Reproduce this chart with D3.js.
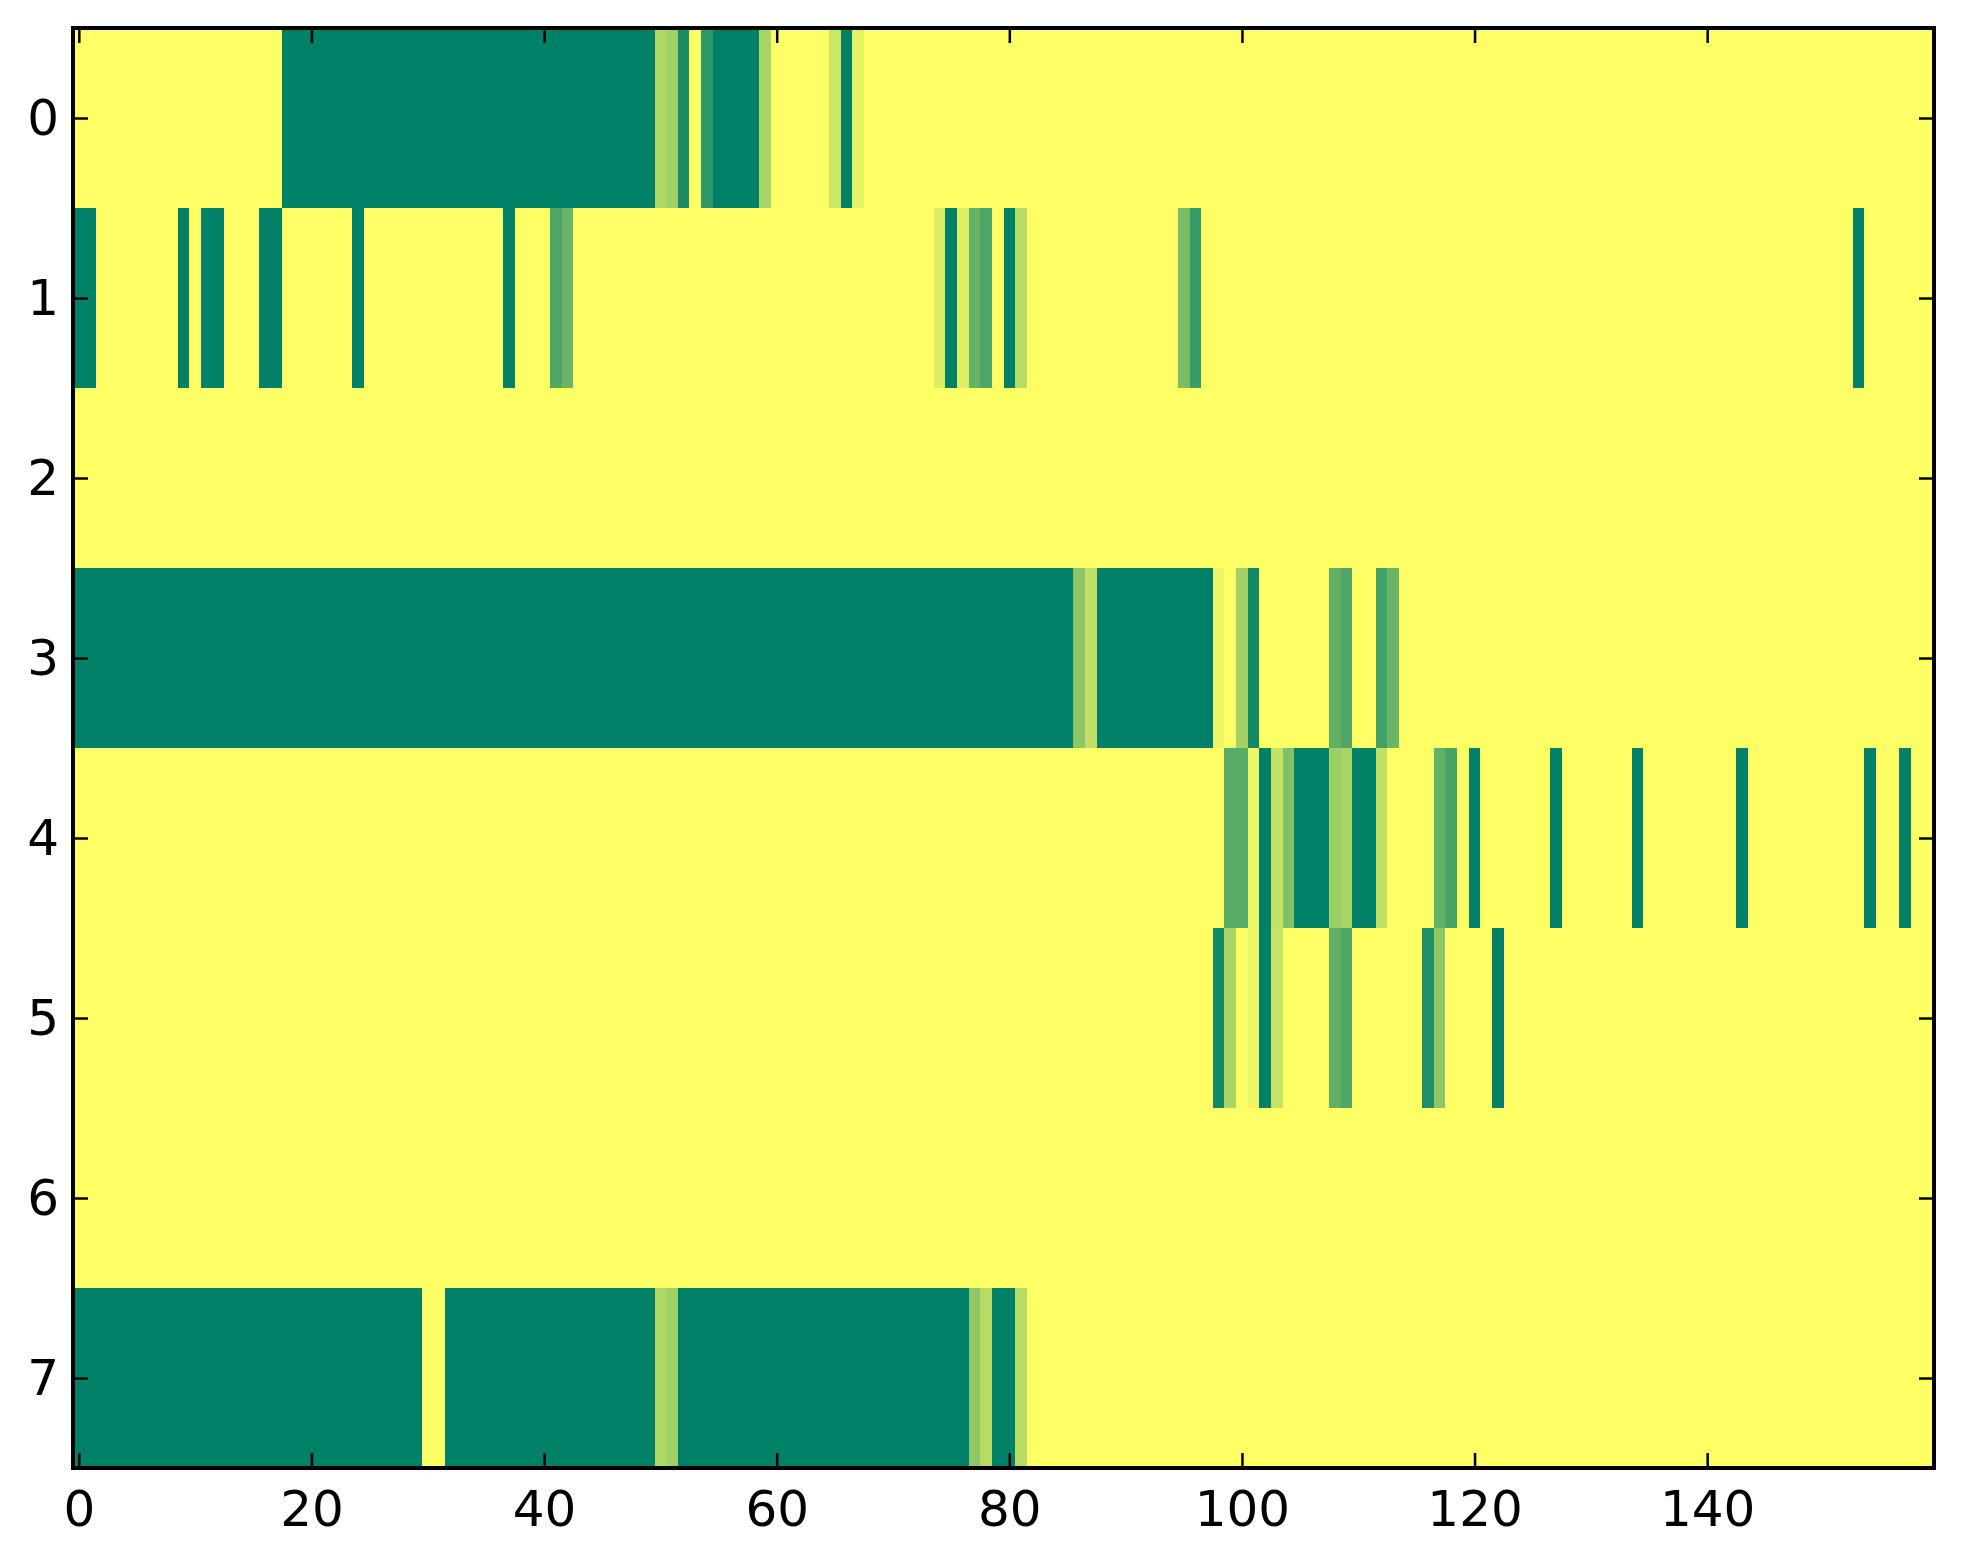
<!DOCTYPE html>
<html>
<head>
<meta charset="utf-8">
<script src="https://cdn.jsdelivr.net/npm/d3@7"></script>
<style>
  body { margin: 0; background: #fff; }
  svg { display: block; }
</style>
</head>
<body>
<div id="chart"></div>
<script>
// one array per image row, 160 columns each, value 0..1 (summer colormap)
const row0 = [
  1,1,1,1,1,1,1,1,1,1,1,1,1,1,1,1,1,1,0,0,
  0,0,0,0,0,0,0,0,0,0,0,0,0,0,0,0,0,0,0,0,
  0,0,0,0,0,0,0,0,0,0,.69,.63,.09,1,.18,0,0,0,0,.66,
  1,1,1,1,1,.8,0,.9,1,1,1,1,1,1,1,1,1,1,1,1,
  1,1,1,1,1,1,1,1,1,1,1,1,1,1,1,1,1,1,1,1,
  1,1,1,1,1,1,1,1,1,1,1,1,1,1,1,1,1,1,1,1,
  1,1,1,1,1,1,1,1,1,1,1,1,1,1,1,1,1,1,1,1,
  1,1,1,1,1,1,1,1,1,1,1,1,1,1,1,1,1,1,1,1
];
const row1 = [
  0,0,1,1,1,1,1,1,1,0,1,0,0,1,1,1,0,0,1,1,
  1,1,1,1,0,1,1,1,1,1,1,1,1,1,1,1,1,0,1,1,
  1,.31,.41,1,1,1,1,1,1,1,1,1,1,1,1,1,1,1,1,1,
  1,1,1,1,1,1,1,1,1,1,1,1,1,1,.86,0,.87,.4,.3,1,
  0,.72,1,1,1,1,1,1,1,1,1,1,1,1,1,.48,.22,1,1,1,
  1,1,1,1,1,1,1,1,1,1,1,1,1,1,1,1,1,1,1,1,
  1,1,1,1,1,1,1,1,1,1,1,1,1,1,1,1,1,1,1,1,
  1,1,1,1,1,1,1,1,1,1,1,1,1,0,1,1,1,1,1,1
];
const row2 = [
  1,1,1,1,1,1,1,1,1,1,1,1,1,1,1,1,1,1,1,1,
  1,1,1,1,1,1,1,1,1,1,1,1,1,1,1,1,1,1,1,1,
  1,1,1,1,1,1,1,1,1,1,1,1,1,1,1,1,1,1,1,1,
  1,1,1,1,1,1,1,1,1,1,1,1,1,1,1,1,1,1,1,1,
  1,1,1,1,1,1,1,1,1,1,1,1,1,1,1,1,1,1,1,1,
  1,1,1,1,1,1,1,1,1,1,1,1,1,1,1,1,1,1,1,1,
  1,1,1,1,1,1,1,1,1,1,1,1,1,1,1,1,1,1,1,1,
  1,1,1,1,1,1,1,1,1,1,1,1,1,1,1,1,1,1,1,1
];
const row3 = [
  0,0,0,0,0,0,0,0,0,0,0,0,0,0,0,0,0,0,0,0,
  0,0,0,0,0,0,0,0,0,0,0,0,0,0,0,0,0,0,0,0,
  0,0,0,0,0,0,0,0,0,0,0,0,0,0,0,0,0,0,0,0,
  0,0,0,0,0,0,0,0,0,0,0,0,0,0,0,0,0,0,0,0,
  0,0,0,0,0,0,.55,.75,0,0,0,0,0,0,0,0,0,0,.93,1,
  .64,.06,1,1,1,1,1,1,.38,.3,1,1,.26,.42,1,1,1,1,1,1,
  1,1,1,1,1,1,1,1,1,1,1,1,1,1,1,1,1,1,1,1,
  1,1,1,1,1,1,1,1,1,1,1,1,1,1,1,1,1,1,1,1
];
const row4 = [
  1,1,1,1,1,1,1,1,1,1,1,1,1,1,1,1,1,1,1,1,
  1,1,1,1,1,1,1,1,1,1,1,1,1,1,1,1,1,1,1,1,
  1,1,1,1,1,1,1,1,1,1,1,1,1,1,1,1,1,1,1,1,
  1,1,1,1,1,1,1,1,1,1,1,1,1,1,1,1,1,1,1,1,
  1,1,1,1,1,1,1,1,1,1,1,1,1,1,1,1,1,1,1,.35,
  .35,.93,0,.77,.5,0,0,0,.61,.66,0,0,.75,1,1,1,1,.38,.28,1,
  0,1,1,1,1,1,1,0,1,1,1,1,1,1,0,1,1,1,1,1,
  1,1,1,0,1,1,1,1,1,1,1,1,1,1,0,1,1,0,1,1
];
const row5 = [
  1,1,1,1,1,1,1,1,1,1,1,1,1,1,1,1,1,1,1,1,
  1,1,1,1,1,1,1,1,1,1,1,1,1,1,1,1,1,1,1,1,
  1,1,1,1,1,1,1,1,1,1,1,1,1,1,1,1,1,1,1,1,
  1,1,1,1,1,1,1,1,1,1,1,1,1,1,1,1,1,1,1,1,
  1,1,1,1,1,1,1,1,1,1,1,1,1,1,1,1,1,1,.07,.66,
  1,.93,0,.78,1,1,1,1,.38,.31,1,1,1,1,1,1,.12,.56,1,1,
  1,1,0,1,1,1,1,1,1,1,1,1,1,1,1,1,1,1,1,1,
  1,1,1,1,1,1,1,1,1,1,1,1,1,1,1,1,1,1,1,1
];
const row6 = [
  1,1,1,1,1,1,1,1,1,1,1,1,1,1,1,1,1,1,1,1,
  1,1,1,1,1,1,1,1,1,1,1,1,1,1,1,1,1,1,1,1,
  1,1,1,1,1,1,1,1,1,1,1,1,1,1,1,1,1,1,1,1,
  1,1,1,1,1,1,1,1,1,1,1,1,1,1,1,1,1,1,1,1,
  1,1,1,1,1,1,1,1,1,1,1,1,1,1,1,1,1,1,1,1,
  1,1,1,1,1,1,1,1,1,1,1,1,1,1,1,1,1,1,1,1,
  1,1,1,1,1,1,1,1,1,1,1,1,1,1,1,1,1,1,1,1,
  1,1,1,1,1,1,1,1,1,1,1,1,1,1,1,1,1,1,1,1
];
const row7 = [
  0,0,0,0,0,0,0,0,0,0,0,0,0,0,0,0,0,0,0,0,
  0,0,0,0,0,0,0,0,0,0,1,1,0,0,0,0,0,0,0,0,
  0,0,0,0,0,0,0,0,0,0,.69,.63,0,0,0,0,0,0,0,0,
  0,0,0,0,0,0,0,0,0,0,0,0,0,0,0,0,0,.56,.72,0,
  0,.72,1,1,1,1,1,1,1,1,1,1,1,1,1,1,1,1,1,1,
  1,1,1,1,1,1,1,1,1,1,1,1,1,1,1,1,1,1,1,1,
  1,1,1,1,1,1,1,1,1,1,1,1,1,1,1,1,1,1,1,1,
  1,1,1,1,1,1,1,1,1,1,1,1,1,1,1,1,1,1,1,1
];

const xTicks = [0, 20, 40, 60, 80, 100, 120, 140];
const yTicks = [0, 1, 2, 3, 4, 5, 6, 7];

const rows = [row0, row1, row2, row3, row4, row5, row6, row7];
const cells = [];
rows.forEach((r, ri) => r.forEach((v, ci) => cells.push({ row: ri, col: ci, value: v })));

const W = 1963, H = 1564;
const margin = { left: 73, right: 1934, top: 28, bottom: 1468 };

const svg = d3.select("#chart").append("svg")
    .attr("width", W)
    .attr("height", H);

let x = d3.scaleLinear().domain([-0.5, 159.5]).range([margin.left, margin.right]);
let y = d3.scaleLinear().domain([-0.5, 7.5]).range([margin.top, margin.bottom]);

// matplotlib "summer": (0, .5, .4) -> (1, 1, .4)
let color = d3.scaleLinear().domain([0, 1]).range(["#008066", "#ffff66"]);

svg.append("g")
    .attr("shape-rendering", "crispEdges")
    .selectAll("rect")
    .data(cells)
    .join("rect")
    .attr("x", d => x(d.col - 0.5))
    .attr("y", d => y(d.row - 0.5))
    .attr("width", d => x(d.col + 0.5) - x(d.col - 0.5) + 0.5)
    .attr("height", d => y(d.row + 0.5) - y(d.row - 0.5) + 0.5)
    .attr("fill", d => color(d.value));

const font = "'DejaVu Sans', sans-serif";

function styleAxis(g) {
    g.select(".domain").remove();
    g.selectAll(".tick line").attr("stroke", "#000").attr("stroke-width", 2.5);
    g.selectAll(".tick text").attr("fill", "#000");
    g.attr("font-family", font).attr("font-size", 50);
}

svg.append("g")
    .attr("transform", `translate(0,${margin.bottom})`)
    .call(d3.axisBottom(x).tickValues(xTicks).tickSize(-15).tickPadding(22.5))
    .call(styleAxis);

svg.append("g")
    .attr("transform", `translate(0,${margin.top})`)
    .call(d3.axisTop(x).tickValues(xTicks).tickSize(-15).tickFormat(""))
    .call(styleAxis);

svg.append("g")
    .attr("transform", `translate(${margin.left},0)`)
    .call(d3.axisLeft(y).tickValues(yTicks).tickSize(-15).tickPadding(14))
    .call(styleAxis);

svg.append("g")
    .attr("transform", `translate(${margin.right},0)`)
    .call(d3.axisRight(y).tickValues(yTicks).tickSize(-15).tickFormat(""))
    .call(styleAxis);

// frame
svg.append("rect")
    .attr("x", margin.left)
    .attr("y", margin.top)
    .attr("width", margin.right - margin.left)
    .attr("height", margin.bottom - margin.top)
    .attr("fill", "none")
    .attr("stroke", "#000")
    .attr("stroke-width", 4);
</script>
</body>
</html>
